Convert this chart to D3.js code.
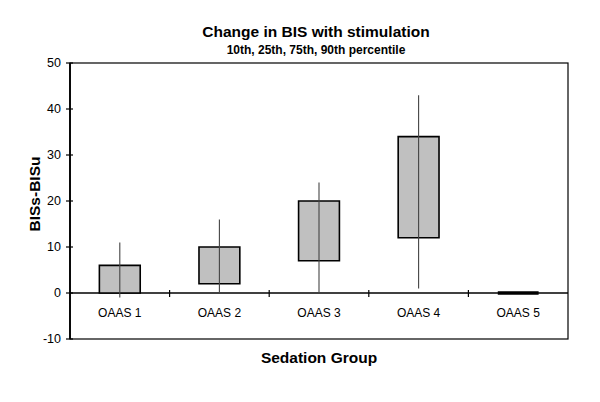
<!DOCTYPE html>
<html>
<head>
<meta charset="utf-8">
<script src="https://d3js.org/d3.v7.min.js"></script>
<style>
  body { margin: 0; background: #fff; }
  text { font-family: Arial, "Liberation Sans", sans-serif; fill: #000; }
</style>
</head>
<body>
<svg id="chart" width="600" height="402"></svg>
<script>
// percentiles
const categories = ["OAAS 1", "OAAS 2", "OAAS 3", "OAAS 4", "OAAS 5"];
const p10 = [-1, 0, 0, 1, 0];
const p25 = [0, 2, 7, 12, 0];
const p75 = [6, 10, 20, 34, 0];
const p90 = [11, 16, 24, 43, 0];
const yTicks = [-10, 0, 10, 20, 30, 40, 50];

const svg = d3.select("#chart");
const plotL = 70, plotR = 568, plotT = 63, plotB = 339;

const x = d3.scaleBand().domain(categories).range([plotL, plotR]).padding(0);
const y = d3.scaleLinear().domain([-10, 50]).range([plotB, plotT]);

const rows = categories.map((c, i) => ({ cat: c, lo: p10[i], q1: p25[i], q3: p75[i], hi: p90[i] }));

// plot frame
svg.append("rect")
  .attr("x", plotL).attr("y", plotT)
  .attr("width", plotR - plotL).attr("height", plotB - plotT)
  .attr("fill", "none").attr("stroke", "#000").attr("stroke-width", 1.2);
svg.append("line")
  .attr("x1", plotL).attr("x2", plotL).attr("y1", plotT).attr("y2", plotB)
  .attr("stroke", "#000").attr("stroke-width", 1.8);

// y ticks crossing the axis
svg.selectAll(".ytick").data(yTicks).enter().append("line")
  .attr("x1", plotL - 4).attr("x2", plotL + 3)
  .attr("y1", d => y(d)).attr("y2", d => y(d))
  .attr("stroke", "#000").attr("stroke-width", 1.2);
svg.selectAll(".ylab").data(yTicks).enter().append("text")
  .attr("x", plotL - 9).attr("y", d => y(d))
  .attr("dy", "0.35em").attr("text-anchor", "end")
  .style("font-size", "12.5px")
  .text(d => d);

// zero line + category separators
svg.append("line")
  .attr("x1", plotL).attr("x2", plotR).attr("y1", y(0)).attr("y2", y(0))
  .attr("stroke", "#000").attr("stroke-width", 1.6);
svg.selectAll(".xtick").data(categories.slice(1)).enter().append("line")
  .attr("x1", d => x(d)).attr("x2", d => x(d))
  .attr("y1", y(0) - 3).attr("y2", y(0) + 4)
  .attr("stroke", "#000").attr("stroke-width", 1.2);

// boxes (path so an all-zero box still shows as a line)
const boxW = x.bandwidth() * 0.41;
svg.selectAll(".box").data(rows).enter().append("path")
  .attr("d", d => {
    const cx = x(d.cat) + x.bandwidth() / 2;
    const x0 = cx - boxW / 2, x1 = cx + boxW / 2;
    return `M${x0},${y(d.q3)}H${x1}V${y(d.q1)}H${x0}Z`;
  })
  .attr("fill", "#c0c0c0").attr("stroke", "#000")
  .attr("stroke-width", d => d.q1 === d.q3 ? 3.5 : 1.6);

// whiskers 10th-90th, drawn through the box
svg.selectAll(".whisker").data(rows.filter(d => d.hi !== d.lo)).enter().append("line")
  .attr("x1", d => x(d.cat) + x.bandwidth() / 2)
  .attr("x2", d => x(d.cat) + x.bandwidth() / 2)
  .attr("y1", d => y(d.lo)).attr("y2", d => y(d.hi))
  .attr("stroke", "#444").attr("stroke-width", 1.1);

// category labels
svg.selectAll(".xlab").data(categories).enter().append("text")
  .attr("x", d => x(d) + x.bandwidth() / 2).attr("y", 317)
  .attr("text-anchor", "middle")
  .style("font-size", "12px")
  .text(d => d);

// titles
svg.append("text")
  .attr("x", 316).attr("y", 37).attr("text-anchor", "middle")
  .style("font-size", "15.5px").style("font-weight", "bold")
  .text("Change in BIS with stimulation");
svg.append("text")
  .attr("x", 316).attr("y", 54).attr("text-anchor", "middle")
  .style("font-size", "12px").style("font-weight", "bold")
  .text("10th, 25th, 75th, 90th percentile");

svg.append("text")
  .attr("x", (plotL + plotR) / 2).attr("y", 363).attr("text-anchor", "middle")
  .style("font-size", "15.5px").style("font-weight", "bold")
  .text("Sedation Group");

svg.append("text")
  .attr("transform", "translate(40,194) rotate(-90)")
  .attr("text-anchor", "middle")
  .style("font-size", "15.5px").style("font-weight", "bold")
  .text("BISs-BISu");
</script>
</body>
</html>
